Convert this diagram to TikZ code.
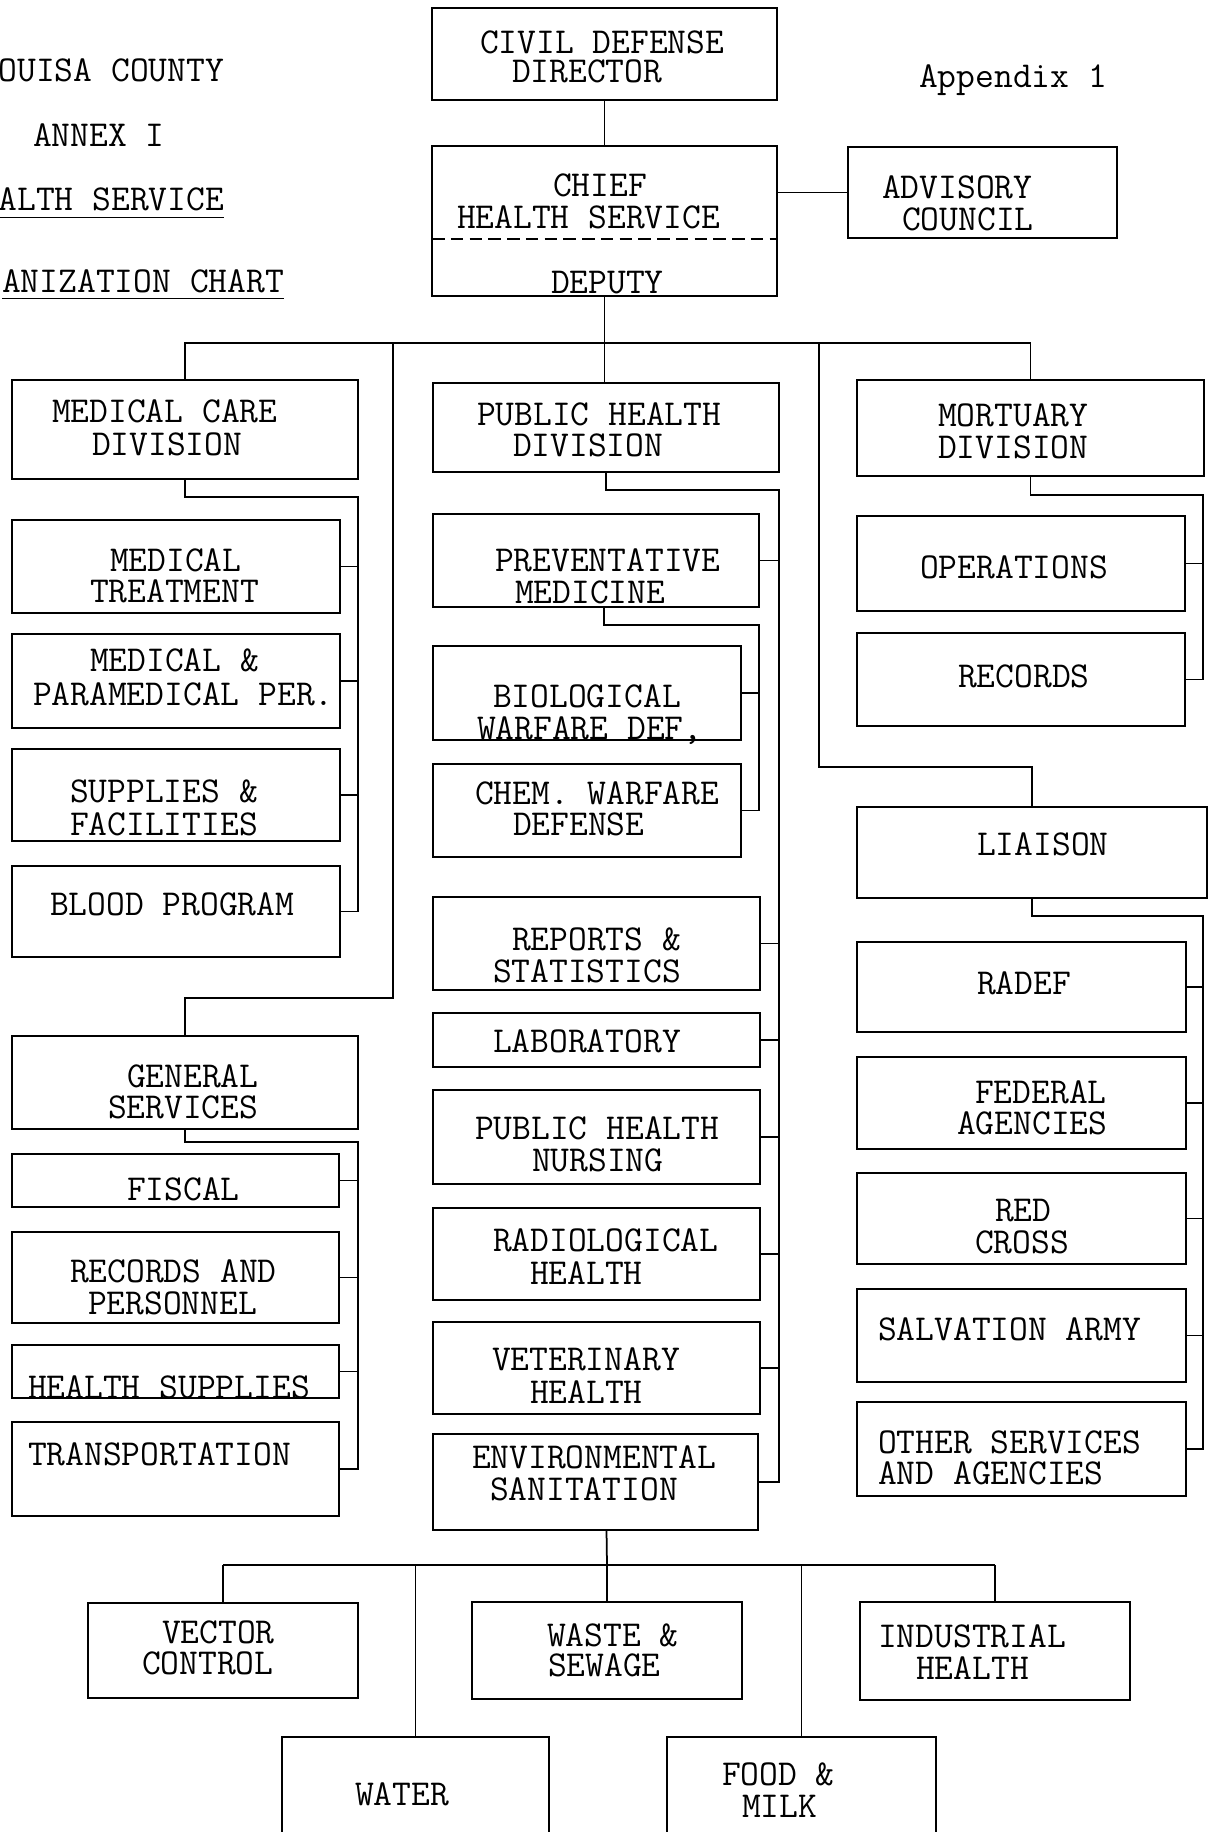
\documentclass[tikz,border=0pt]{standalone}
\usetikzlibrary{calc}
\newcommand\orgfont{\fontsize{14.6pt}{12.6pt}\selectfont\ttfamily}
% box by its corners (x1,y1) (x2,y2), y measured downwards
\newcommand\orgbox[5]{\node[box, minimum width={(#4-#2)*0.4pt}, minimum height={(#5-#3)*0.4pt}] (#1) at ({(#2+#4)/2},{(#3+#5)/2}) {};}
% one typed line: start x, middle of the capitals y
\newcommand\orgtext[4]{\node[txt] (#1) at (#2,{#3+11}) {#4};}
\begin{document}
\begin{tikzpicture}[x=0.4pt,y=-0.4pt,
  box/.style={draw, line width=0.7pt, rectangle, inner sep=0pt, outer sep=0pt},
  wire/.style={line width=0.7pt},
  txt/.style={inner sep=0pt, outer sep=0pt, anchor=base west, font=\orgfont},
]
\useasboundingbox (0,0) rectangle (1210,1832);
\clip (0,0) rectangle (1210,1832);

% ---------- heading ----------
\node[txt, anchor=base east] (ttla) at (224,82) {OUISA COUNTY};
\orgtext{ttlb}{33}{136}{ANNEX I}
\node[txt, anchor=base east] (ttlc) at (224,210) {ALTH SERVICE};
\node[txt, anchor=base east] (ttld) at (284,292) {ANIZATION CHART};
\draw[line width=0.6pt] ([yshift=-2.8pt]ttlc.south west) -- ([yshift=-2.8pt]ttlc.south east);
\draw[line width=0.6pt] ([yshift=-2.4pt]ttld.south west) -- ([yshift=-2.4pt]ttld.south east);
\node[txt] (appx) at (919,88) {Appendix 1};

% ---------- boxes ----------
\orgbox{civil}{432}{8}{777}{100}
\orgbox{chief}{432}{146}{777}{296}
\orgbox{advisory}{848}{147}{1117}{238}
\orgbox{medcare}{12}{380}{358}{479}
\orgbox{medtreat}{12}{520}{340}{613}
\orgbox{medpara}{12}{634}{340}{728}
\orgbox{supplies}{12}{749}{340}{841}
\orgbox{blood}{12}{866}{340}{957}
\orgbox{gensvc}{12}{1036}{358}{1129}
\orgbox{fiscal}{12}{1154}{339}{1207}
\orgbox{recpers}{12}{1232}{339}{1323}
\orgbox{hsupp}{12}{1345}{339}{1398}
\orgbox{transp}{12}{1422}{339}{1516}
\orgbox{phdiv}{433}{383}{779}{472}
\orgbox{prevmed}{433}{514}{759}{607}
\orgbox{biowar}{433}{646}{741}{740}
\orgbox{chemwar}{433}{764}{741}{857}
\orgbox{reports}{433}{897}{760}{990}
\orgbox{lab}{433}{1013}{760}{1067}
\orgbox{phnurse}{433}{1090}{760}{1184}
\orgbox{radio}{433}{1208}{760}{1300}
\orgbox{vet}{433}{1322}{760}{1414}
\orgbox{env}{433}{1434}{758}{1530}
\orgbox{mortuary}{857}{380}{1204}{476}
\orgbox{operations}{857}{516}{1185}{611}
\orgbox{records}{857}{633}{1185}{726}
\orgbox{liaison}{857}{807}{1207}{898}
\orgbox{radef}{857}{942}{1186}{1032}
\orgbox{federal}{857}{1057}{1186}{1149}
\orgbox{redcross}{857}{1173}{1186}{1264}
\orgbox{salvation}{857}{1289}{1186}{1382}
\orgbox{other}{857}{1402}{1186}{1496}
\orgbox{vector}{88}{1603}{358}{1698}
\orgbox{waste}{472}{1602}{742}{1699}
\orgbox{industrial}{860}{1602}{1130}{1700}
\orgbox{water}{282}{1737}{549}{1850}
\orgbox{food}{667}{1737}{936}{1850}

% dashed divider between chief and deputy
\draw[line width=0.6pt, dash pattern=on 5pt off 2.5pt]
  ([yshift=-7.2pt]chief.west) -- ([yshift=-7.2pt]chief.east);

% ---------- texts ----------
\orgtext{civa}{480}{43}{CIVIL DEFENSE}
\orgtext{civb}{512}{72}{DIRECTOR}
\orgtext{chfa}{553}{186}{CHIEF}
\orgtext{chfb}{457}{217}{HEALTH SERVICE}
\orgtext{chfc}{551}{282}{DEPUTY}
\orgtext{adva}{882}{188}{ADVISORY}
\orgtext{advb}{902}{219}{COUNCIL}

\orgtext{mca}{52}{411}{MEDICAL CARE}
\orgtext{mcb}{92}{444}{DIVISION}
\orgtext{mta}{110}{560}{MEDICAL}
\orgtext{mtb}{90}{591}{TREATMENT}
\orgtext{mpa}{90}{660}{MEDICAL \&}
\orgtext{mpb}{33}{694}{PARAMEDICAL PER.}
\orgtext{spa}{70}{791}{SUPPLIES \&}
\orgtext{spb}{70}{824}{FACILITIES}
\orgtext{bpa}{50}{904}{BLOOD PROGRAM}

\orgtext{gsa}{127}{1076}{GENERAL}
\orgtext{gsb}{108}{1107}{SERVICES}
\orgtext{fsa}{127}{1189}{FISCAL}
\orgtext{rpa}{70}{1271}{RECORDS AND}
\orgtext{rpb}{88}{1303}{PERSONNEL}
\orgtext{hsa}{28}{1387}{HEALTH SUPPLIES}
\orgtext{tra}{28}{1454}{TRANSPORTATION}

\orgtext{pha}{477}{414}{PUBLIC HEALTH}
\orgtext{phb}{513}{445}{DIVISION}
\orgtext{pma}{495}{560}{PREVENTATIVE}
\orgtext{pmb}{515}{592}{MEDICINE}
\orgtext{bwa}{493}{696}{BIOLOGICAL}
\orgtext{bwb}{477}{728}{WARFARE DEF,}
\orgtext{cwa}{475}{793}{CHEM. WARFARE}
\orgtext{cwb}{513}{824}{DEFENSE}
\orgtext{rsa}{512}{939}{REPORTS \&}
\orgtext{rsb}{493}{971}{STATISTICS}
\orgtext{lba}{493}{1041}{LABORATORY}
\orgtext{pna}{475}{1128}{PUBLIC HEALTH}
\orgtext{pnb}{532}{1160}{NURSING}
\orgtext{rha}{493}{1240}{RADIOLOGICAL}
\orgtext{rhb}{530}{1273}{HEALTH}
\orgtext{vha}{492}{1359}{VETERINARY}
\orgtext{vhb}{530}{1392}{HEALTH}
\orgtext{esa}{472}{1457}{ENVIRONMENTAL}
\orgtext{esb}{490}{1489}{SANITATION}

\orgtext{mda}{938}{415}{MORTUARY}
\orgtext{mdb}{938}{447}{DIVISION}
\orgtext{opa}{920}{567}{OPERATIONS}
\orgtext{rca}{958}{676}{RECORDS}
\orgtext{lia}{977}{844}{LIAISON}
\orgtext{rda}{977}{983}{RADEF}
\orgtext{fda}{975}{1092}{FEDERAL}
\orgtext{fdb}{957}{1123}{AGENCIES}
\orgtext{rxa}{995}{1210}{RED}
\orgtext{rxb}{975}{1242}{CROSS}
\orgtext{saa}{878}{1329}{SALVATION ARMY}
\orgtext{osa}{878}{1442}{OTHER SERVICES}
\orgtext{osb}{878}{1473}{AND AGENCIES}

\orgtext{vca}{162}{1632}{VECTOR}
\orgtext{vcb}{142}{1663}{CONTROL}
\orgtext{wsa}{547}{1635}{WASTE \&}
\orgtext{wsb}{548}{1665}{SEWAGE}
\orgtext{iha}{878}{1636}{INDUSTRIAL}
\orgtext{ihb}{916}{1668}{HEALTH}
\orgtext{wta}{355}{1794}{WATER}
\orgtext{fma}{722}{1774}{FOOD \&}
\orgtext{fmb}{742}{1806}{MILK}

% ---------- connectors ----------
\coordinate (bus) at (604,343);
\coordinate (gsdrop) at (393,343);
\coordinate (gsturn) at (393,998);
\coordinate (lsdrop) at (819,343);
\coordinate (lsturn) at (819,767);

\draw[wire] (civil.south) -- (chief.north);
\draw[wire] (advisory.west) -- (advisory.west -| chief.east);
\draw[wire] (chief.south) -- (chief.south |- phdiv.north);
\draw[wire] (medcare.north) -- (medcare.north |- bus) -- (mortuary.north |- bus) -- (mortuary.north);
\draw[wire] (gsdrop) -- (gsturn) -| (gensvc.north);
\draw[wire] (lsdrop) -- (lsturn) -| (liaison.north);

% medical care division
\coordinate (mcv) at (358,497);
\draw[wire] (medcare.south) |- (mcv) |- (blood.east);
\foreach \n in {medtreat,medpara,supplies} \draw[wire] (\n.east) -- (\n.east -| mcv);

% general services
\coordinate (gsv) at (358,1142);
\draw[wire] (gensvc.south) |- (gsv) |- (transp.east);
\foreach \n in {fiscal,recpers,hsupp} \draw[wire] (\n.east) -- (\n.east -| gsv);

% public health division
\coordinate (phv) at (779,490);
\draw[wire] (phdiv.south) |- (phv) |- (env.east);
\foreach \n in {prevmed,reports,lab,phnurse,radio,vet} \draw[wire] (\n.east) -- (\n.east -| phv);

% preventative medicine
\coordinate (pmv) at (759,625);
\draw[wire] ($(prevmed.south)+(8,0)$) |- (pmv) |- (chemwar.east);
\draw[wire] (biowar.east) -- (biowar.east -| pmv);

% mortuary division
\coordinate (mov) at (1203,495);
\draw[wire] (mortuary.south) |- (mov) |- (records.east);
\draw[wire] (operations.east) -- (operations.east -| mov);

% liaison
\coordinate (liv) at (1203,916);
\draw[wire] (liaison.south) |- (liv) |- (other.east);
\foreach \n in {radef,federal,redcross,salvation} \draw[wire] (\n.east) -- (\n.east -| liv);

% environmental sanitation
\coordinate (envbus) at (607,1565);
\draw[wire] ($(env.south)+(11,0)$) -- (envbus);
\draw[wire] (vector.north |- envbus) -- (industrial.north |- envbus);
\foreach \n in {vector,water,waste,food,industrial} \draw[wire] (\n.north) -- (\n.north |- envbus);
\end{tikzpicture}
\end{document}
